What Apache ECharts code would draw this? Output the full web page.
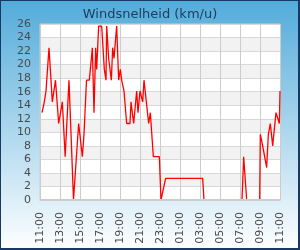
<!DOCTYPE html>
<html>
<head>
<meta charset="utf-8">
<script src="https://cdn.jsdelivr.net/npm/echarts@6/dist/echarts.min.js"></script>
<style>
  html, body { margin: 0; padding: 0; }
  #chart { width: 300px; height: 250px; }
</style>
</head>
<body>
<div id="chart"></div>
<script>
// wind speed readings
const times = ['11:12','11:26','11:36','11:54','12:14','12:33','12:52','13:14','13:31','13:54',
  '14:21','14:29','14:52','15:14','15:24','15:36','15:39','15:56','16:14','16:24',
  '16:34','16:40','16:52','17:10','17:26','17:36','17:40','17:52','17:58','18:08',
  '18:16','18:24','18:40','18:52','19:02','19:10','19:24','19:36','19:40','20:00',
  '20:06','20:16','20:22','20:40','20:48','21:00','21:16','21:24','21:34','21:52',
  '22:02','22:20','22:56','23:06','23:34','03:16','03:24','07:12','07:22','07:32',
  '07:40','08:58','09:02','09:16','09:22','09:40','09:50','10:02','10:16','10:36',
  '10:46','10:56','11:00'];
const speeds = [12.9,14.5,16.1,22.5,14.5,17.7,11.3,14.5,6.4,17.7,
  0,0,11.3,6.4,9.7,9.7,17.7,17.7,22.5,12.9,
  22.5,19.3,25.7,25.7,19.3,17.7,25.7,20.9,20.9,17.7,
  22.5,20.9,25.7,17.7,19.3,17.7,16.1,16.1,11.3,11.3,
  14.5,14.5,11.3,16.1,12.9,16.1,14.5,17.7,17.7,11.3,
  12.9,6.4,6.4,0,3.2,3.2,0,0,6.4,6.4,
  0,0,9.7,8.0,8.0,4.8,9.7,11.3,8.0,12.9,
  12.9,11.3,16.1];
const xLabels = ['11:00','13:00','15:00','17:00','19:00','21:00','23:00',
  '01:00','03:00','05:00','07:00','09:00','11:00'];
const startHour = 11;

// hours since start, wrapping past midnight
function toHours(list) {
  let offset = 0, prev = -1;
  return list.map(t => {
    const [h, m] = t.split(':').map(Number);
    let v = h + m / 60 - startHour;
    if (v < 0) v += 24;
    if (v + offset < prev) offset += 24;
    prev = v + offset;
    return v + offset;
  });
}

const hrs = toHours(times);
const points = hrs.map((h, i) => [h, speeds[i]]);

const font = 'DejaVu Sans';
const chart = echarts.init(document.getElementById('chart'));
chart.setOption({
  animation: false,
  backgroundColor: {
    type: 'linear', x: 0, y: 0, x2: 0, y2: 1,
    colorStops: [{offset: 0, color: '#52abda'}, {offset: 1, color: '#ffffff'}]
  },
  title: {
    text: 'Windsnelheid (km/u)',
    left: 'center', top: 3,
    textStyle: {fontFamily: font, fontSize: 13, fontWeight: 'normal', color: '#1d3b5c'}
  },
  grid: {
    left: 40, right: 20, top: 24, bottom: 50, containLabel: false,
    show: true, backgroundColor: '#fff', borderColor: '#cccccc', borderWidth: 1
  },
  xAxis: {
    type: 'value', min: 0, max: 24, interval: 2,
    axisLine: {show: true, lineStyle: {color: '#cccccc', width: 1}},
    axisTick: {show: false},
    splitLine: {lineStyle: {color: '#cccccc'}},
    axisLabel: {
      rotate: 90, margin: 12, fontFamily: font, fontSize: 11, color: '#4a4a4a',
      formatter: v => xLabels[Math.round(v / 2)]
    }
  },
  yAxis: {
    type: 'value', min: 0, max: 26, interval: 2,
    axisLine: {show: true, lineStyle: {color: '#cccccc'}},
    axisTick: {show: false},
    splitLine: {lineStyle: {color: '#d8d8d8'}},
    splitArea: {show: true, areaStyle: {color: ['#ffffff', '#f2f2f2']}},
    axisLabel: {margin: 9, fontFamily: font, fontSize: 11, color: '#4a4a4a'}
  },
  series: [{
    type: 'line',
    data: points,
    symbol: 'none',
    lineStyle: {color: '#ff0000', width: 1.3}
  }],
  graphic: [{
    // bottom plot border drawn over the series, hides the zero runs
    type: 'line', silent: true, z: 100,
    shape: {x1: 40, y1: 200, x2: 280, y2: 200},
    style: {stroke: '#cccccc', lineWidth: 2}
  }, {
    type: 'rect', silent: true, z: 100,
    shape: {x: 0, y: 0, width: 299, height: 249},
    style: {fill: null, stroke: '#163a63', lineWidth: 2}
  }]
});
</script>
</body>
</html>
